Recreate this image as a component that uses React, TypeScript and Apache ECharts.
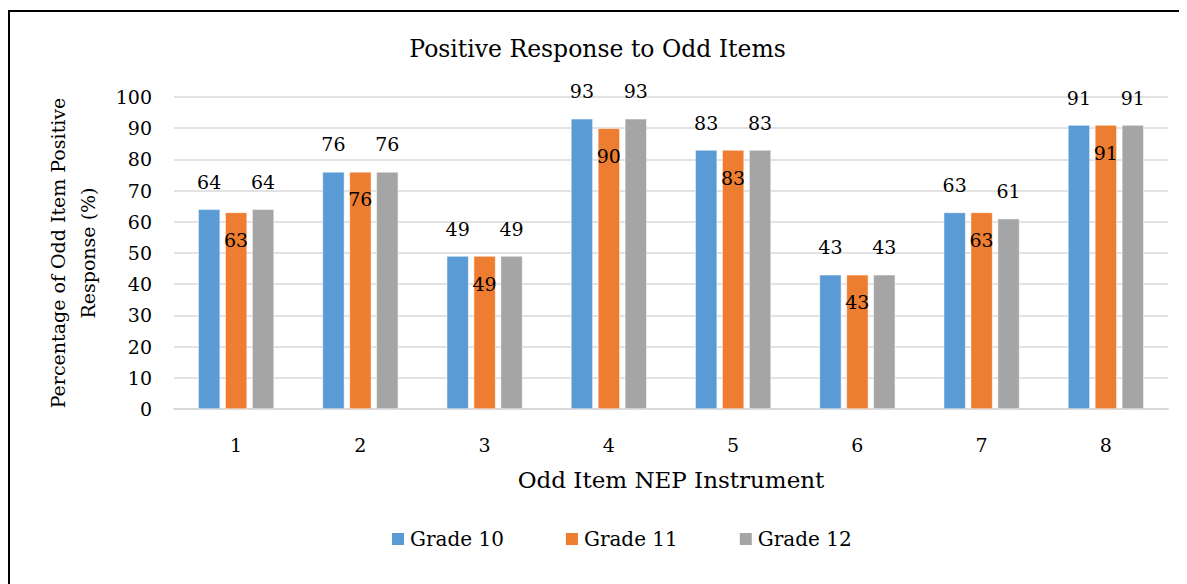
import React, { useEffect, useRef } from "react";
import * as echarts from "echarts";

const categories = ["1", "2", "3", "4", "5", "6", "7", "8"];
const grade10 = [64, 76, 49, 93, 83, 43, 63, 91];
const grade11 = [63, 76, 49, 90, 83, 43, 63, 91];
const grade12 = [64, 76, 49, 93, 83, 43, 61, 91];
const seriesNames = ["Grade 10", "Grade 11", "Grade 12"];
const colors = ["#5b9bd5", "#ed7d31", "#a5a5a5"];

const FONT = "DejaVu Serif";

export default function App() {
  const ref = useRef<HTMLDivElement>(null);
  useEffect(() => {
    if (!ref.current) return;
    const chart = echarts.init(ref.current, undefined, { renderer: "svg" });
    const labelTop = {
      show: true,
      position: "top",
      distance: 18,
      color: "#000",
      fontFamily: FONT,
      fontSize: 19,
    };
    const labelInside = {
      show: true,
      position: "insideTop",
      distance: 18,
      color: "#000",
      fontFamily: FONT,
      fontSize: 19,
    };
    const data = [grade10, grade11, grade12];
    chart.setOption({
      animation: false,
      color: colors,
      textStyle: { fontFamily: FONT, color: "#000" },
      title: {
        text: "Positive Response to Odd Items",
        left: "center",
        top: 24,
        textStyle: { fontFamily: FONT, fontSize: 23.5, fontWeight: "normal", color: "#000" },
      },
      legend: {
        data: seriesNames,
        bottom: 30,
        left: 377,
        itemWidth: 14,
        itemHeight: 14,
        itemGap: 60,
        icon: "rect",
        textStyle: { fontFamily: FONT, fontSize: 20, color: "#000" },
      },
      grid: { left: 166, right: 19, top: 89, bottom: 175, containLabel: false },
      xAxis: {
        type: "category",
        data: categories,
        name: "Odd Item NEP Instrument",
        nameLocation: "middle",
        nameGap: 59,
        nameTextStyle: { fontFamily: FONT, fontSize: 23, color: "#000" },
        axisLine: { show: true, lineStyle: { color: "#d9d9d9", width: 2 } },
        axisTick: { show: false },
        axisLabel: { margin: 26, fontFamily: FONT, fontSize: 19, color: "#000" },
      },
      yAxis: {
        type: "value",
        min: 0,
        max: 100,
        interval: 10,
        name: "Percentage of Odd Item Positive\nResponse (%)",
        nameLocation: "middle",
        nameRotate: 90,
        nameGap: 71,
        nameTextStyle: { fontFamily: FONT, fontSize: 19, color: "#000", lineHeight: 30 },
        axisLine: { show: false },
        axisTick: { show: false },
        axisLabel: { margin: 22, fontFamily: FONT, fontSize: 19, color: "#000" },
        splitLine: { lineStyle: { color: "#d9d9d9", width: 1.5 } },
      },
      series: seriesNames.map((name, i) => ({
        name,
        type: "bar",
        data: data[i],
        barGap: "23%",
        barCategoryGap: "39%",
        itemStyle: { color: colors[i], borderColor: "#ffffff", borderWidth: 0.5 },
        label: i === 1 ? labelInside : labelTop,
      })),
      graphic: [
        { type: "line", shape: { x1: 1, y1: 3, x2: 1, y2: 600 }, style: { stroke: "#000", lineWidth: 2 } },
        { type: "line", shape: { x1: 0, y1: 3, x2: 1300, y2: 3 }, style: { stroke: "#000", lineWidth: 2 } },
      ],
    });
    return () => chart.dispose();
  }, []);
  return <div ref={ref} style={{ width: 1179, height: 576 }} />;
}
